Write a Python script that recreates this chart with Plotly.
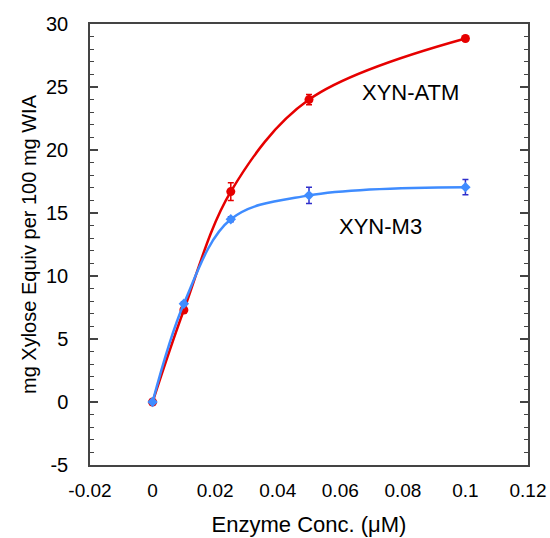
import plotly.graph_objects as go

conc = [0, 0.01, 0.025, 0.05, 0.1]
atm = [0, 7.3, 16.7, 24.0, 28.85]
atm_err = [0, 0.2, 0.7, 0.4, 0.15]
m3 = [0, 7.8, 14.5, 16.4, 17.05]
m3_err = [0, 0.15, 0.2, 0.65, 0.6]

x_ticks = [-0.02, 0, 0.02, 0.04, 0.06, 0.08, 0.1, 0.12]
x_ticklabels = ["-0.02", "0", "0.02", "0.04", "0.06", "0.08", "0.1", "0.12"]
y_ticks = [-5, 0, 5, 10, 15, 20, 25, 30]
y_ticklabels = ["-5", "0", "5", "10", "15", "20", "25", "30"]

fig = go.Figure()
fig.add_trace(go.Scatter(
    x=conc, y=atm, mode="lines+markers", line=dict(color="#e60000", width=2.5, shape="spline"),
    marker=dict(symbol="circle", size=9, color="#e60000"),
    error_y=dict(type="data", array=atm_err, color="#e60000", thickness=1.5, width=3),
    name="XYN-ATM", showlegend=False))
fig.add_trace(go.Scatter(
    x=conc, y=m3, mode="lines+markers", line=dict(color="#3f8cff", width=2.5, shape="spline"),
    marker=dict(symbol="diamond", size=8, color="#3f8cff"),
    error_y=dict(type="data", array=m3_err, color="#2f2fcc", thickness=1.5, width=3),
    name="XYN-M3", showlegend=False))

font = "Liberation Sans, Arial, sans-serif"
fig.add_annotation(x=0.0823, y=24.6, text="XYN-ATM", showarrow=False,
                   font=dict(family=font, size=22, color="black"))
fig.add_annotation(x=0.0727, y=13.9, text="XYN-M3", showarrow=False,
                   font=dict(family=font, size=22, color="black"))

fig.update_layout(
    width=550, height=538, paper_bgcolor="white", plot_bgcolor="white",
    margin=dict(l=90, r=22, t=24, b=73),
    font=dict(family=font, color="black"),
)
fig.update_xaxes(
    range=[-0.02, 0.12], tickmode="array", tickvals=x_ticks, ticktext=x_ticklabels,
    showgrid=False, zeroline=False, automargin=False,
    showline=True, linecolor="#444", linewidth=1.5, mirror=True, ticks="",
    tickfont=dict(size=19), ticklabelstandoff=7,
    title=dict(text="Enzyme Conc. (μM)", font=dict(size=22), standoff=17),
)
fig.update_yaxes(
    range=[-5, 30], tickmode="array", tickvals=y_ticks, ticktext=y_ticklabels,
    showgrid=False, zeroline=False, automargin=False,
    showline=True, linecolor="#444", linewidth=1.5, mirror="allticks",
    ticks="inside", ticklen=8, tickcolor="#444", tickwidth=1.5,
    minor=dict(dtick=1, ticks="inside", ticklen=4, tickcolor="#444", tickwidth=1.2),
    tickfont=dict(size=20), ticklabelstandoff=16,
    title=dict(text="mg Xylose Equiv per 100 mg WIA", font=dict(size=20), standoff=4),
)
fig.write_html("out.html", config={"displayModeBar": False},
               post_script="document.body.style.margin='0';document.body.style.overflow='hidden';")
